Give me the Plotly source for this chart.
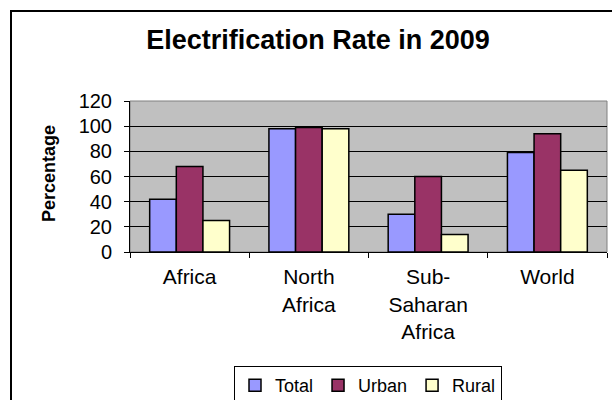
import plotly.graph_objects as go

# Electrification rate (%) by region, 2009
regions = ["Africa", "North<br>Africa", "Sub-<br>Saharan<br>Africa", "World"]
total = [42, 98, 30, 79]
urban = [68, 99, 60, 94]
rural = [25, 98, 14, 65]

series = [
    ("Total", total, "#9999FF"),
    ("Urban", urban, "#993366"),
    ("Rural", rural, "#FFFFCC"),
]

FONT = "Arial, Liberation Sans, sans-serif"

fig = go.Figure()
for name, vals, color in series:
    fig.add_trace(go.Bar(
        x=regions, y=vals, name=name,
        marker=dict(color=color, line=dict(color="black", width=1.5)),
    ))

W, H = 612, 400
L, R, T, B = 130, 5, 101, 148
pw, ph = W - L - R, H - T - B


def px_x(x):
    return (x - L) / pw


def px_y(y):
    return (H - B - y) / ph


fig.update_layout(
    width=W, height=H,
    margin=dict(l=L, r=R, t=T, b=B, pad=0, autoexpand=False),
    paper_bgcolor="white",
    plot_bgcolor="#C0C0C0",
    barmode="group",
    bargap=0.33,
    bargroupgap=0,
    font=dict(family=FONT, color="black"),
    title=dict(
        text="<b>Electrification Rate in 2009</b>",
        font=dict(family=FONT, size=27, color="black"),
        x=318 / W, xref="container", xanchor="center",
        y=1 - 40 / H, yref="container", yanchor="middle",
    ),
    showlegend=True,
    legend=dict(
        orientation="h",
        x=px_x(234), xanchor="left",
        y=px_y(366), yanchor="top",
        bordercolor="black", borderwidth=1,
        bgcolor="white",
        font=dict(family=FONT, size=18, color="black"),
        itemwidth=30,
    ),
    xaxis=dict(
        type="category",
        automargin=False,
        tickson="boundaries",
        ticks="outside", ticklen=5, tickcolor="black", tickwidth=1,
        showline=True, linecolor="black", linewidth=1,
        showgrid=False,
        tickfont=dict(family=FONT, size=21, color="black"),
        ticklabelstandoff=6,
    ),
    yaxis=dict(
        range=[0, 120], dtick=20,
        automargin=False,
        ticks="outside", ticklen=5, tickcolor="black", tickwidth=1,
        showline=True, linecolor="black", linewidth=1,
        showgrid=True, gridcolor="black", gridwidth=1,
        zeroline=False,
        tickfont=dict(family=FONT, size=20, color="black"),
        ticklabelstandoff=8,
    ),
    shapes=[
        # plot-area frame
        dict(type="rect", xref="paper", yref="paper", x0=0, x1=1, y0=0, y1=1,
             line=dict(color="#808080", width=1), layer="below"),
        # outer chart border
        dict(type="rect", xref="paper", yref="paper",
             x0=px_x(11), x1=px_x(700), y0=px_y(500), y1=px_y(11),
             line=dict(color="black", width=2)),
    ],
    annotations=[
        dict(text="<b>Percentage</b>", textangle=-90,
             xref="paper", yref="paper", x=px_x(49), y=px_y(174),
             xanchor="center", yanchor="middle", showarrow=False,
             font=dict(family=FONT, size=18, color="black")),
    ],
)

fig.write_html("out.html")
